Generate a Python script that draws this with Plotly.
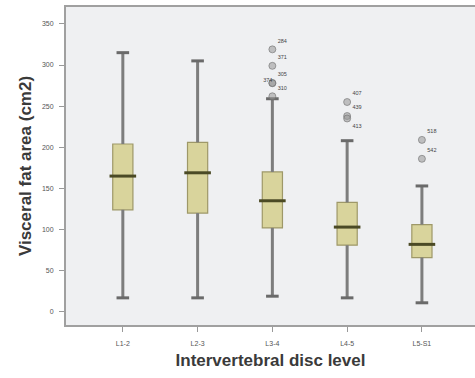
import plotly.graph_objects as go

categories = ["L1-2", "L2-3", "L3-4", "L4-5", "L5-S1"]
lower_whisker = [17, 17, 19, 17, 11]
q1 = [124, 120, 102, 81, 66]
median = [165, 169, 135, 103, 82]
q3 = [204, 206, 170, 133, 106]
upper_whisker = [315, 305, 259, 208, 153]

out_cat = ["L3-4", "L3-4", "L3-4", "L3-4", "L3-4", "L4-5", "L4-5", "L4-5", "L5-S1", "L5-S1"]
out_val = [319, 299, 278, 278, 262, 255, 238, 235, 209, 186]
out_label = ["284", "371", "305", "", "310", "407", "439", "413", "518", "542"]
out_textpos = ["top right", "top right", "top right", "top right", "top right",
               "top right", "top right", "bottom right", "top right", "top right"]
left_label_cat = ["L3-4"]
left_label_val = [278]
left_label = ["374"]

yticks = [0, 50, 100, 150, 200, 250, 300, 350]

fig = go.Figure()

# boxes
fig.add_trace(go.Box(
    x=categories, q1=q1, median=median, q3=q3,
    lowerfence=q1, upperfence=q3,
    boxpoints=False, width=0.27, whiskerwidth=0,
    fillcolor="#d9d49c", line=dict(color="#9e9868", width=1.2),
    showlegend=False, hoverinfo="skip"))

# whiskers
wx, wy = [], []
for c, lo, a, b, hi in zip(categories, lower_whisker, q1, q3, upper_whisker):
    wx += [c, c, None, c, c, None]
    wy += [lo, a, None, b, hi, None]
fig.add_trace(go.Scatter(x=wx, y=wy, mode="lines",
                         line=dict(color="#7d7d7d", width=3),
                         showlegend=False, hoverinfo="skip"))

# whisker caps
fig.add_trace(go.Scatter(
    x=categories + categories, y=lower_whisker + upper_whisker, mode="markers",
    marker=dict(symbol="line-ew", size=9, line=dict(color="#6a6a6a", width=3)),
    showlegend=False, hoverinfo="skip"))

# medians
fig.add_trace(go.Scatter(
    x=categories, y=median, mode="markers",
    marker=dict(symbol="line-ew", size=19, line=dict(color="#4b4a25", width=3)),
    showlegend=False, hoverinfo="skip"))

# outliers (overlapping points draw darker)
fig.add_trace(go.Scatter(
    x=out_cat, y=out_val, mode="markers+text",
    text=out_label, textposition=out_textpos,
    textfont=dict(size=5.5, color="#444444", family="Liberation Sans, Arial"),
    marker=dict(size=7, color="rgba(150,150,150,0.55)",
                line=dict(color="rgba(110,110,110,0.6)", width=1)),
    showlegend=False, hoverinfo="skip"))
fig.add_trace(go.Scatter(
    x=left_label_cat, y=left_label_val, mode="text",
    text=left_label, textposition="top left",
    textfont=dict(size=5.5, color="#444444", family="Liberation Sans, Arial"),
    showlegend=False, hoverinfo="skip"))

fig.update_layout(
    width=475, height=378,
    margin=dict(l=66, r=0, t=7, b=53),
    paper_bgcolor="white", plot_bgcolor="#eff0f2",
    font=dict(family="Liberation Sans, Arial", color="#333333"),
    xaxis=dict(
        type="category", categoryorder="array", categoryarray=categories,
        range=[-0.76, 4.71],
        showline=True, mirror=True, linecolor="#a0a0a0", linewidth=2,
        ticks="outside", ticklen=5, tickcolor="#999999",
        tickfont=dict(size=7, color="#555555"),
        ticklabelstandoff=6,
        showgrid=False, zeroline=False,
        title=dict(text="<b>Intervertebral disc level</b>",
                   font=dict(size=17, color="#3a3a3a"), standoff=8)),
    yaxis=dict(
        range=[-16, 370.5], tickvals=yticks,
        showline=True, linecolor="#a0a0a0", linewidth=2,
        ticks="outside", ticklen=5, tickcolor="#999999",
        tickfont=dict(size=7, color="#555555"),
        ticklabelstandoff=4,
        showgrid=False, zeroline=False,
        title=dict(text="<b>Visceral fat area (cm2)</b>",
                   font=dict(size=17, color="#3a3a3a"), standoff=6)),
)

fig.write_html("out.html", config={"displayModeBar": False},
               post_script="document.body.style.margin='0';document.body.style.overflow='hidden';")
